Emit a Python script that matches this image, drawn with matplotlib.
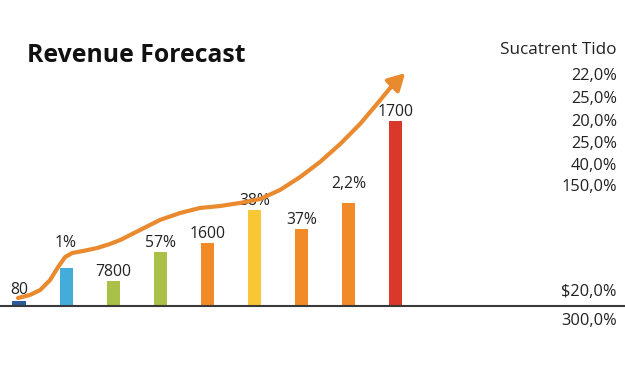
import matplotlib
matplotlib.use("Agg")
import matplotlib.pyplot as plt

# ---- data ----
bar_values = [5, 38, 25, 54, 63, 96, 77, 103, 185]
bar_labels = ["80", "1%", "7800", "57%", "1600", "38%", "37%", "2,2%", "1700"]
bar_colors = ["#2a5b97", "#43acd9", "#a8c146", "#a8c146", "#f28a27",
              "#f7c833", "#f28a27", "#f28a27", "#d8392a"]
trend_x = [-0.02, 0.23, 0.45, 0.66, 0.83, 0.98, 1.13, 1.36, 1.66, 1.93,
           2.15, 2.57, 2.99, 3.42, 3.84, 4.27, 4.69, 5.12, 5.54, 5.97,
           6.39, 6.82, 7.24, 7.60, 7.88, 8.20]
trend_y = [8, 11, 16, 26, 39, 49, 53, 55, 58, 62,
           66, 76, 86, 93, 98, 100, 103, 107, 116, 129,
           144, 162, 182, 202, 218, 233]
side_title = "Sucatrent Tido"
side_values = ["22,0%", "25,0%", "20,0%", "25,0%", "40,0%", "150,0%"]
side_low_top = "$20,0%"
side_low_bottom = "300,0%"
title = "Revenue Forecast"

# label vertical offsets (points)
label_offsets = [2, 12, 1, 1, 1, 1, 1, 8, 1]

plt.rcParams['font.family'] = ['Open Sans', 'DejaVu Sans']

fig = plt.figure(figsize=(6.25, 3.75), dpi=100)
ax = fig.add_axes([0, 69 / 375, 1, 306 / 375])
ax.set_xlim(-19 / 47.1, (625 - 19) / 47.1)
ax.set_ylim(0, 306)
ax.axis("off")

xs = list(range(len(bar_values)))
ax.bar(xs, bar_values, width=0.28, color=bar_colors, zorder=2)
ax.axhline(0, color="#3a3a3a", lw=1.5, zorder=3, clip_on=False)

for x, v, lab, off in zip(xs, bar_values, bar_labels, label_offsets):
    ax.annotate(lab, (x, v), xytext=(0, off), textcoords="offset points",
                ha="center", va="bottom", fontsize=11.3, color="#222222",
                zorder=1)

orange = "#e98a2f"
ax.plot(trend_x[:-1], trend_y[:-1], color=orange, lw=3, solid_capstyle="round",
        solid_joinstyle="round", zorder=4)
ax.annotate("", xy=(trend_x[-1], trend_y[-1]), xytext=(trend_x[-2], trend_y[-2]),
            arrowprops=dict(arrowstyle="-|>,head_length=1.0,head_width=0.55",
                            color=orange, lw=3, shrinkA=0, shrinkB=0), zorder=4)

fig.text(27 / 625, 1 - 56 / 375, title, fontsize=17.8, fontweight="bold",
         ha="left", va="center", color="#111111")

rx = 617 / 625
fs = 12.3
fig.text(rx, 1 - 50 / 375, side_title, fontsize=fs, ha="right", va="center",
         color="#222222")
side_ys = [76, 99, 122, 144, 166, 187]
for t, y in zip(side_values, side_ys):
    fig.text(rx, 1 - y / 375, t, fontsize=fs - 0.5, ha="right", va="center",
             color="#222222")
fig.text(rx, 1 - 292 / 375, side_low_top, fontsize=fs - 0.5, ha="right",
         va="center", color="#222222")
fig.text(rx, 1 - 321 / 375, side_low_bottom, fontsize=fs - 0.5, ha="right",
         va="center", color="#222222")

fig.savefig("out.png", dpi=100, facecolor="white")
